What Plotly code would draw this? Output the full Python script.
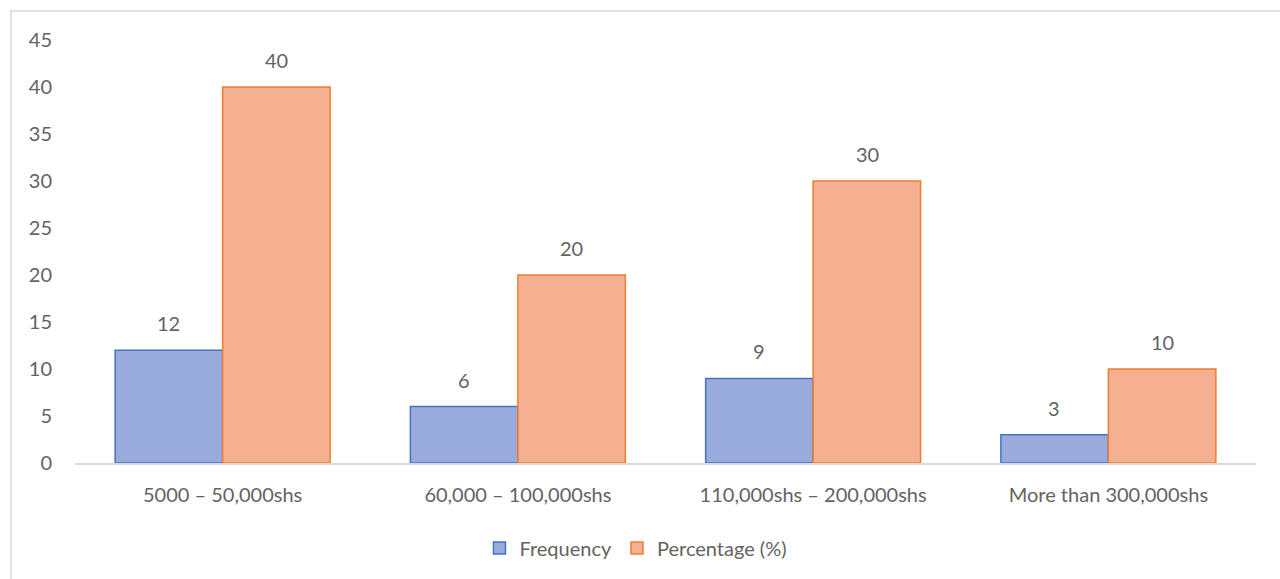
import plotly.graph_objects as go

# Share-value ranges and the two measures shown for each
categories = ["5000 – 50,000shs", "60,000 – 100,000shs", "110,000shs – 200,000shs", "More than 300,000shs"]
frequency = [12, 6, 9, 3]
percentage = [40, 20, 30, 10]
y_ticks = [0, 5, 10, 15, 20, 25, 30, 35, 40, 45]

FONT = "Lato"
GREY = "#636363"
SIZE = 20

fig = go.Figure()
fig.add_trace(go.Bar(
    name="Frequency", x=categories, y=frequency,
    marker=dict(color="#99abdc", line=dict(color="#4472c4", width=1.5)),
))
fig.add_trace(go.Bar(
    name="Percentage (%)", x=categories, y=percentage,
    marker=dict(color="#f5b091", line=dict(color="#ed7d31", width=1.5)),
))

# value labels floating above each bar
annotations = []
for series, shift in ((frequency, -54), (percentage, 54)):
    for cat, val in zip(categories, series):
        annotations.append(dict(
            x=cat, y=val, xref="x", yref="y", text=str(val), showarrow=False,
            xshift=shift, yshift=13, yanchor="bottom",
            font=dict(family=FONT, size=SIZE, color=GREY),
        ))

fig.update_layout(
    width=1280, height=579,
    margin=dict(l=75, r=24, t=40, b=116),
    paper_bgcolor="white", plot_bgcolor="white",
    barmode="group", bargap=0.272, bargroupgap=0,
    font=dict(family=FONT, size=SIZE, color=GREY),
    annotations=annotations,
    xaxis=dict(
        showline=True, linecolor="#d9d9d9", linewidth=1.5,
        ticks="", ticklabelstandoff=13,
        tickfont=dict(family=FONT, size=SIZE, color=GREY),
        showgrid=False,
    ),
    yaxis=dict(
        range=[0, 45], tickvals=y_ticks, showgrid=False, zeroline=False,
        showline=False, ticks="", ticklabelstandoff=22,
        tickfont=dict(family=FONT, size=SIZE, color=GREY),
    ),
    legend=dict(
        orientation="h", x=0.475, xanchor="center", y=-0.201, yanchor="middle",
        font=dict(family=FONT, size=SIZE, color=GREY),
        itemwidth=30, traceorder="normal",
    ),
    shapes=[dict(
        type="rect", xref="paper", yref="paper",
        x0=-64 / 1181, x1=1.02 + 30 / 1181, y0=-(116 + 10) / 423, y1=1 + 29 / 423,
        line=dict(color="#d9d9d9", width=1.5), fillcolor="rgba(0,0,0,0)", layer="below",
    )],
)

fig.write_html("out.html")
